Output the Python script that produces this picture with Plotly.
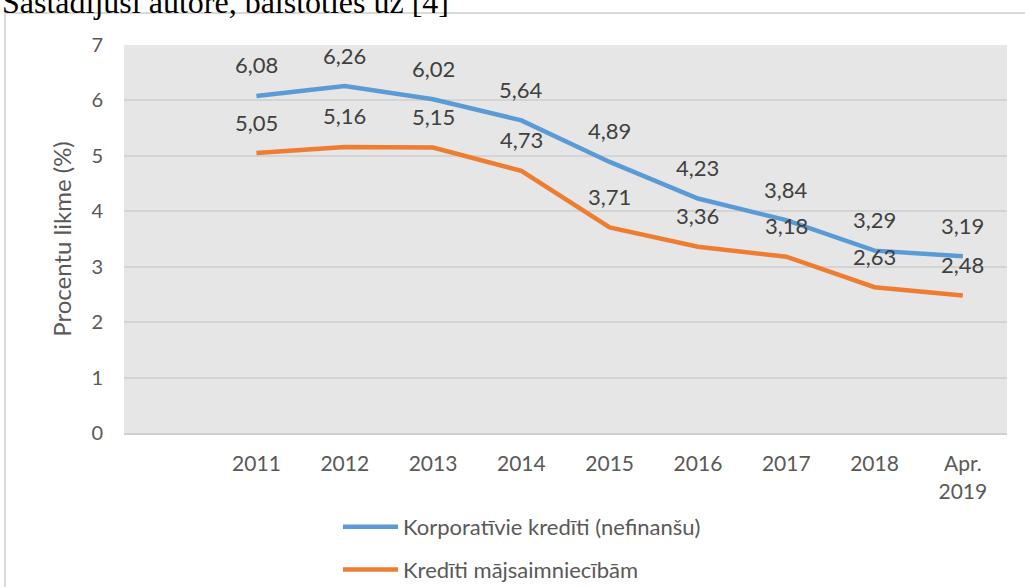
import plotly.graph_objects as go

categories = ["2011", "2012", "2013", "2014", "2015", "2016", "2017", "2018", "Apr.<br>2019"]
corporate = [6.08, 6.26, 6.02, 5.64, 4.89, 4.23, 3.84, 3.29, 3.19]
households = [5.05, 5.16, 5.15, 4.73, 3.71, 3.36, 3.18, 2.63, 2.48]
series_names = ["Korporatīvie kredīti (nefinanšu)", "Kredīti mājsaimniecībām"]
series_colors = ["#5B9BD5", "#ED7D31"]
y_ticks = [0, 1, 2, 3, 4, 5, 6, 7]
y_title = "Procentu likme (%)"
caption = "Sastādījusi autore, balstoties uz [4]"

W, H = 1025, 587
L, R, T, B = 124, 18, 45, 154
pw, ph = W - L - R, H - T - B

def px_x(p):
    return (p - L) / pw

def px_y(p):
    return (H - B - p) / ph

fig = go.Figure()
annotations = []
for i, (name, vals, col) in enumerate(zip(series_names, [corporate, households], series_colors)):
    fig.add_trace(go.Scatter(
        x=categories, y=vals, mode="lines", name=name,
        line=dict(color=col, width=4.5), legendgroup=f"g{i}",
    ))
    for ci, v in enumerate(vals):
        annotations.append(dict(
            x=ci, y=v, xref="x", yref="y", text=f"{v:.2f}".replace(".", ","),
            showarrow=False, yshift=31, yanchor="middle", xanchor="center",
            font=dict(family="Lato", size=22, color="#404040"),
        ))

annotations.append(dict(
    x=px_x(0), y=px_y(22), xref="paper", yref="paper", text=caption,
    showarrow=False, xanchor="left", yanchor="bottom",
    font=dict(family="Liberation Serif", size=32, color="#000000"),
))

fig.update_layout(
    width=W, height=H,
    margin=dict(l=L, r=R, t=T, b=B, autoexpand=False),
    paper_bgcolor="white",
    plot_bgcolor="#e6e6e6",
    font=dict(family="Lato", color="#595959"),
    showlegend=True,
    legend=dict(
        orientation="v", x=px_x(338), xanchor="left", y=px_y(506), yanchor="top",
        font=dict(size=22, color="#595959"), tracegroupgap=11,
        itemwidth=55, bgcolor="rgba(0,0,0,0)",
    ),
    annotations=annotations,
    shapes=[dict(
        type="rect", xref="paper", yref="paper",
        x0=px_x(5), x1=px_x(1040), y0=px_y(600), y1=px_y(13),
        line=dict(color="#d9d9d9", width=2), fillcolor="rgba(0,0,0,0)", layer="below",
    )],
    xaxis=dict(
        type="category", categoryarray=categories, range=[-1.5, len(categories) - 0.5],
        showgrid=False, showline=True, linecolor="#d0d0d0", linewidth=2,
        ticks="", tickfont=dict(size=21, color="#595959"), ticklabelstandoff=11,
        fixedrange=True,
    ),
    yaxis=dict(
        range=[0, 7], tickvals=y_ticks, showgrid=True, gridcolor="#d4d4d4", gridwidth=2,
        zeroline=False, showline=False, ticks="",
        tickfont=dict(size=20, color="#595959"), ticklabelstandoff=20,
        title=dict(text=y_title, font=dict(size=24, color="#595959"), standoff=12),
    ),
)

fig.write_html("out.html", config={"displayModeBar": False},
               post_script="document.body.style.margin='0';")
